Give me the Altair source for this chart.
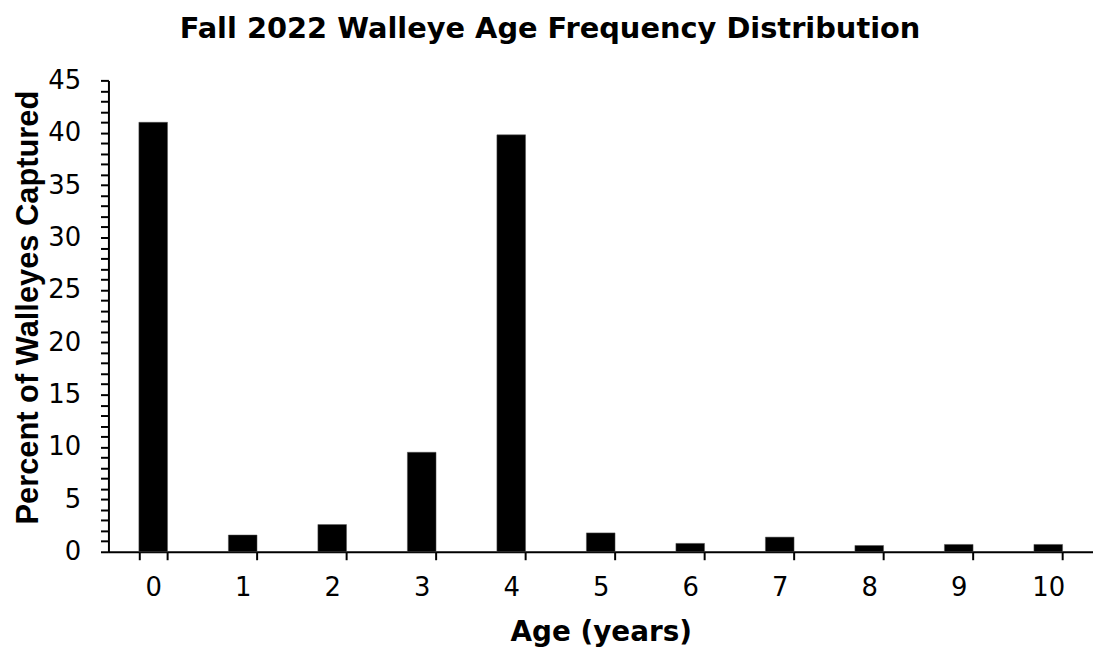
import altair as alt
import pandas as pd

ages = ["0", "1", "2", "3", "4", "5", "6", "7", "8", "9", "10"]
percent = [41.0, 1.6, 2.6, 9.5, 39.8, 1.8, 0.8, 1.4, 0.6, 0.7, 0.7]

df = pd.DataFrame({"Age": ages, "Percent": percent})

FONT = "DejaVu Sans"

bars = alt.Chart(df).mark_bar(color="black", stroke="#555", strokeWidth=0.5).encode(
    x=alt.X(
        "Age:N",
        sort=ages,
        scale=alt.Scale(paddingInner=0.68, paddingOuter=0.34),
        axis=alt.Axis(
            title="Age (years)",
            labelAngle=0,
            tickBand="extent",
            tickSize=8,
            tickWidth=2,
            domainWidth=2,
            labelPadding=15,
            labelFont=FONT,
            labelFontSize=26,
            titleFont=FONT,
            titleFontSize=28,
            titleFontWeight="bold",
            titlePadding=18,
            grid=False,
        ),
    ),
    y=alt.Y(
        "Percent:Q",
        scale=alt.Scale(domain=[0, 45], nice=False),
        axis=alt.Axis(
            title="Percent of Walleyes Captured",
            values=list(range(0, 46)),
            labelExpr="datum.value % 5 == 0 ? datum.label : ''",
            tickSize=8,
            tickWidth=2,
            domainWidth=2,
            labelPadding=20,
            labelFont=FONT,
            labelFontSize=26,
            titleFont="Liberation Sans",
            titleFontSize=31,
            titleFontWeight="bold",
            titlePadding=3,
            titleY=228,
            grid=False,
        ),
    ),
)

chart = bars.properties(
    width=990,
    height=474,
    background="white",
    autosize=alt.AutoSizeParams(type="none"),
    padding={"left": 101, "top": 71, "right": 0, "bottom": 100},
    title=alt.TitleParams(
        "Fall 2022 Walleye Age Frequency Distribution",
        fontSize=29,
        fontWeight="bold",
        font=FONT,
        dx=-51,
        offset=24,
        color="black",
    ),
).configure_view(stroke="transparent", strokeWidth=0).configure_axis(
    labelColor="black",
    titleColor="black",
    domainColor="black",
    tickColor="black",
    grid=False,
)

chart.save("out.html", embed_options={"renderer": "svg", "actions": False})
